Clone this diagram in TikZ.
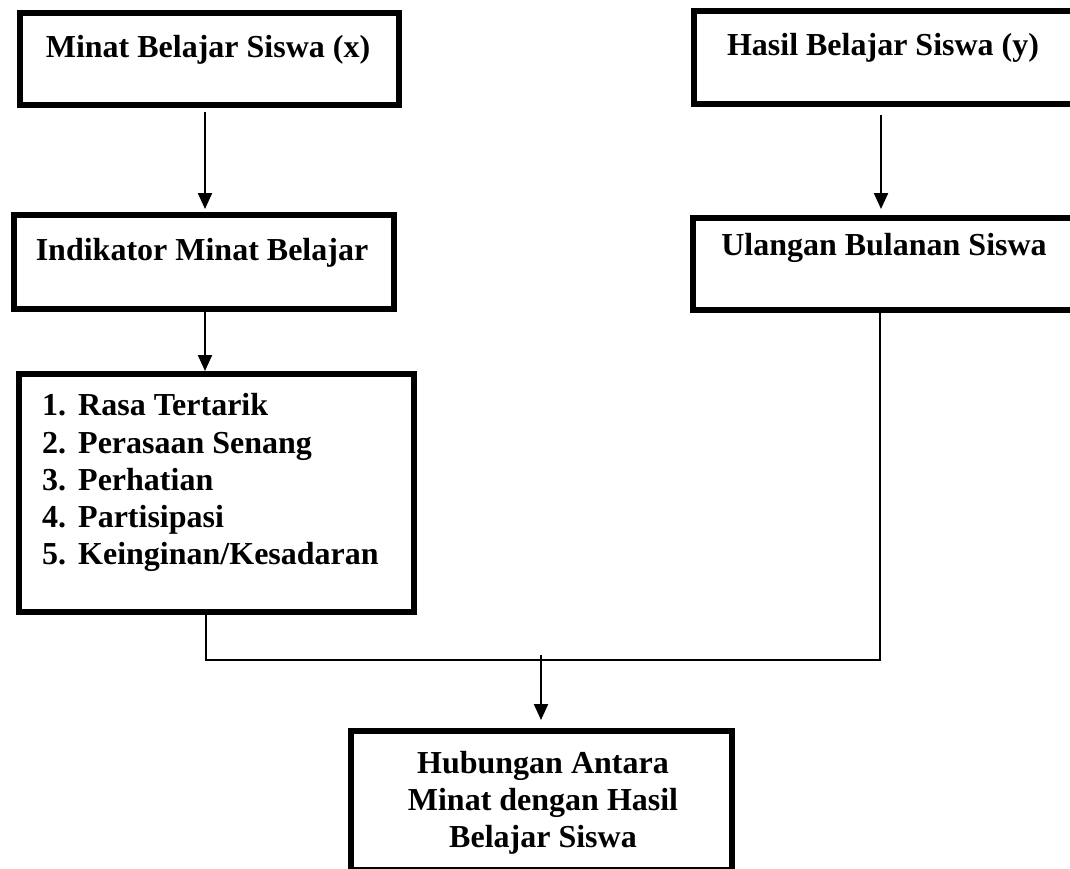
\documentclass[tikz,border=0pt]{standalone}
\usepackage{fontspec}
\setmainfont{Liberation Serif}
\usetikzlibrary{arrows.meta}
\tikzset{
  box/.style={draw=black, line width=6pt, rectangle, inner sep=0pt},
  lbl/.style={inner sep=0pt, anchor=base, font=\fontsize{32}{37}\selectfont\bfseries},
  item/.style={inner sep=0pt, anchor=base west, font=\fontsize{32}{37}\selectfont\bfseries},
  conn/.style={draw=black, line width=2.2pt},
  arr/.style={conn, -{Triangle[length=16pt,width=14pt]}}
}
\begin{document}
\begin{tikzpicture}[x=1pt,y=-1pt]
\useasboundingbox (0,0) rectangle (1070,868);
% boxes
\node[box, minimum width=379pt, minimum height=92pt] (b1) at (209.5,59) {};
\node[box, minimum width=380pt, minimum height=94pt] (b2) at (204,262) {};
\node[box, minimum width=395pt, minimum height=238pt] (b3) at (216.5,493) {};
\node[box, minimum width=380pt, minimum height=93pt] (b4) at (884,57.5) {};
\node[box, minimum width=381pt, minimum height=92pt] (b5) at (883.5,264) {};
\node[box, minimum width=381pt, minimum height=139pt] (b6) at (541.5,800.5) {};
% texts
\node[lbl] (t1) at (208,57) {Minat Belajar Siswa (x)};
\node[lbl] (t2) at (202,260) {Indikator Minat Belajar};
\node[lbl] (t4) at (883,55) {Hasil Belajar Siswa (y)};
\node[lbl] (t5) at (884,255) {Ulangan Bulanan Siswa};
\node[item] (l1) at (42,415) {\makebox[36pt][l]{1.}Rasa Tertarik};
\node[item] (l2) at (42,453) {\makebox[36pt][l]{2.}Perasaan Senang};
\node[item] (l3) at (42,490) {\makebox[36pt][l]{3.}Perhatian};
\node[item] (l4) at (42,527) {\makebox[36pt][l]{4.}Partisipasi};
\node[item] (l5) at (42,564) {\makebox[36pt][l]{5.}Keinginan/Kesadaran};
\node[lbl] (t6a) at (543,773) {Hubungan Antara};
\node[lbl] (t6b) at (543,810) {Minat dengan Hasil};
\node[lbl] (t6c) at (543,847) {Belajar Siswa};
% junction points
\coordinate (jr) at (880,660);
\coordinate (jm) at (541,655);
% connectors
\draw[arr] ([xshift=-4.5pt,yshift=-4pt]b1.south) -- ([xshift=1pt,yshift=3pt]b2.north);
\draw[arr] ([xshift=1pt]b2.south) -- ([xshift=-11.5pt]b3.north);
\draw[arr] ([xshift=-3pt,yshift=-8pt]b4.south) -- ([xshift=-2.5pt,yshift=6pt]b5.north);
\draw[conn] ([xshift=-10.5pt]b3.south) |- (jr) -- ([xshift=-3.5pt]b5.south);
\draw[arr] (jm) -- ([xshift=-0.5pt,yshift=8pt]b6.north);
\end{tikzpicture}
\end{document}
